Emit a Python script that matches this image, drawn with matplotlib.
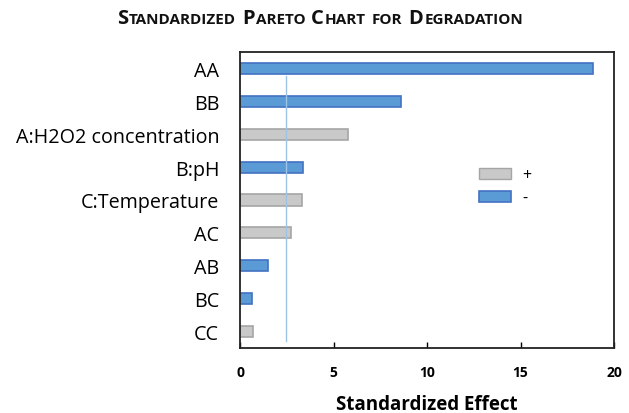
import matplotlib.pyplot as plt
from matplotlib.patches import Patch

plt.rcParams['font.family'] = ['Open Sans', 'DejaVu Sans']

# Pareto terms, top to bottom
terms = ['AA', 'BB', 'A:H2O2 concentration', 'B:pH', 'C:Temperature',
         'AC', 'AB', 'BC', 'CC']
effects = [18.9, 8.6, 5.8, 3.35, 3.3, 2.75, 1.5, 0.65, 0.7]
signs = ['-', '-', '+', '-', '+', '+', '-', '-', '+']
t_crit = 2.45

blue, blue_edge = '#5B9BD5', '#4472C4'
grey, grey_edge = '#C9C9C9', '#A5A5A5'

fig = plt.figure(figsize=(6.29, 4.14), dpi=100)
ax = fig.add_axes([240 / 629, 65 / 414, 374 / 629, 296 / 414])

for i, (val, s) in enumerate(zip(effects, signs)):
    fc, ec = (blue, blue_edge) if s == '-' else (grey, grey_edge)
    ax.barh(i, val, height=0.34, color=fc, edgecolor=ec, linewidth=1.2)

ax.axvline(t_crit, ymin=0.024, ymax=0.92, color='#9DC3E6', linewidth=1)

ax.set_xlim(0, 20)
ax.set_ylim(8.5, -0.5)
ax.set_xticks([0, 5, 10, 15, 20])
ax.set_yticks(range(len(terms)))
ax.set_yticklabels(terms)
ax.tick_params(axis='y', length=0, pad=15, labelsize=14.2)
ax.tick_params(axis='x', direction='in', length=4, width=1, pad=12,
               labelsize=10)
for lbl in ax.get_xticklabels():
    lbl.set_fontweight('bold')
for sp in ax.spines.values():
    sp.set_linewidth(1.3)
    sp.set_color('#222222')

ax.set_xlabel('Standardized Effect', fontsize=13.5, fontweight='bold',
              labelpad=11)

handles = [Patch(facecolor=grey, edgecolor=grey_edge, label='+'),
           Patch(facecolor=blue, edgecolor=blue_edge, linewidth=1.2, label='-')]
ax.legend(handles=handles, loc='upper left', bbox_to_anchor=(0.6, 0.66),
          frameon=False, fontsize=11.5, handlelength=2.0, handleheight=0.75,
          labelspacing=0.45, handletextpad=0.7)

# small-caps title built from separate text pieces
words = ['Standardized', 'Pareto', 'Chart', 'for', 'Degradation']
cap_size, small_size = 14.5, 11
pieces = []
for w in words:
    if w == 'for':
        pieces.append((w.upper(), small_size))
    else:
        pieces.append((w[0], cap_size))
        pieces.append((w[1:].upper(), small_size))
    pieces.append((' ', small_size))
pieces = pieces[:-1]

texts = []
for txt, size in pieces:
    t = fig.text(0, 0, txt, fontsize=size, fontweight='bold',
                 color='#111111')
    texts.append(t)

fig.canvas.draw()
r = fig.canvas.get_renderer()
widths = [t.get_window_extent(r).width for t in texts]
gap = 1.0
total = sum(widths) + gap * (len(texts) - 1)
x = 320 - total / 2
for t, w in zip(texts, widths):
    t.set_position((x / 629, 1 - 24 / 414))
    x += w + gap

fig.savefig('out.png', dpi=100)
